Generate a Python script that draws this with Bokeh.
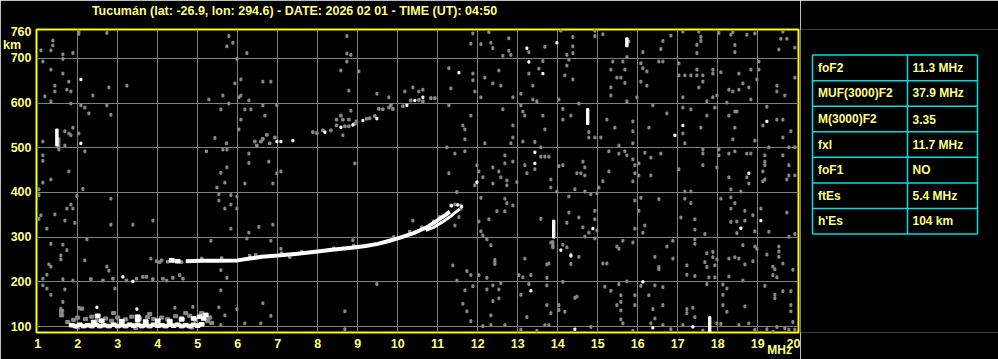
from bokeh.plotting import figure
from bokeh.models import Range1d, FixedTicker, LinearAxis
from bokeh.layouts import row
from bokeh.embed import file_html
from bokeh.resources import INLINE
from bokeh.core.properties import value

TXT = "#ffff80"
FONT = "Liberation Sans"

title_text = "Tucumán (lat: -26.9, lon: 294.6) - DATE: 2026 02 01 - TIME (UT): 04:50"
title_pos = 7.42       # frequency above which the heading is centred
freq_ticks = list(range(1, 21))
km_ticks = [100, 200, 300, 400, 500, 600, 700, 760]
km_grid = [100, 200, 300, 400, 500, 600, 700]
unit_km_pos = 729      # where the "km" unit sits on the height axis
unit_mhz_pos = 19.55   # where the "MHz" unit sits on the frequency axis

# ordinary (O) F-trace
o_freq = [4.7, 5.1, 5.5, 6.0, 6.3, 6.6, 7.0, 7.5, 8.0, 8.3, 8.6, 8.9, 9.2, 9.5, 9.8,
          10.1, 10.4, 10.6, 10.75, 10.9, 11.05, 11.2, 11.3]
o_km = [246, 247, 247, 248, 252, 256, 259, 263, 268, 271, 274, 277, 280, 285, 292,
        300, 309, 317, 323, 332, 341, 350, 357]
# extraordinary (X) trace
x_freq = [10.7, 10.9, 11.1, 11.3, 11.45, 11.55]
x_km = [315, 322, 333, 345, 356, 363]

# sporadic E layer
es_white = [(1.85, 103), (1.95, 101), (2.05, 104), (2.15, 101), (2.25, 103), (2.35, 101), (2.45, 104),
            (2.55, 101), (2.65, 103), (2.78, 101), (2.9, 104), (3.0, 101), (3.1, 103), (3.2, 101),
            (3.3, 104), (3.4, 102), (3.5, 104), (3.6, 101), (3.7, 103), (3.8, 101), (3.9, 104),
            (4.0, 102), (4.1, 103), (4.2, 101), (4.3, 104), (4.4, 102), (4.5, 104), (4.6, 101),
            (4.7, 103), (4.8, 101), (4.9, 104), (5.0, 102), (5.1, 105), (2.4, 110), (2.6, 113),
            (3.1, 112), (3.5, 115), (3.7, 111), (4.0, 113), (4.3, 112), (4.6, 116), (4.9, 118),
            (5.05, 122), (5.15, 118), (5.2, 126), (2.5, 124), (3.5, 122), (4.35, 248), (4.5, 246)]
es_gray = [(1.75, 110), (1.9, 115), (2.0, 120), (2.2, 117), (2.35, 122), (2.5, 115), (2.7, 118),
           (2.85, 113), (3.0, 120), (3.2, 116), (3.35, 122), (3.55, 118), (3.75, 121), (3.9, 117),
           (4.1, 120), (4.25, 116), (4.45, 123), (4.6, 119), (4.8, 124), (4.95, 115), (5.1, 130),
           (5.25, 112), (5.35, 108), (1.6, 125), (1.6, 135), (2.1, 140), (2.9, 130), (3.8, 128),
           (4.7, 130), (5.3, 120), (2.0, 98), (3.45, 97), (4.85, 98)]

# second hop / ghost echoes
hop2 = [(5.72, 510), (6.43, 514), (6.48, 505), (6.58, 514), (6.63, 520), (6.73, 529), (6.80, 510),
        (6.93, 523), (7.88, 535), (7.98, 533), (8.13, 539), (8.33, 539), (8.47, 550), (8.68, 548),
        (8.78, 548), (8.93, 554), (8.47, 563), (8.63, 563), (8.78, 563), (8.58, 572), (8.97, 559),
        (9.22, 565), (9.30, 566), (9.43, 571), (9.53, 587), (9.63, 586), (9.78, 590), (9.83, 595),
        (9.88, 587), (10.13, 593), (10.33, 606), (10.53, 607), (10.63, 604), (10.83, 611), (10.93, 611),
        (2.33, 206), (2.63, 203), (2.88, 207), (3.22, 203), (3.47, 207), (3.63, 211), (3.72, 211),
        (3.88, 206), (4.13, 207), (4.22, 203), (4.38, 209), (4.55, 215), (4.63, 207),
        (3.97, 246), (4.1, 248), (4.25, 245), (4.4, 247), (4.05, 244), (4.6, 244),
        (5.1, 252), (5.6, 253), (6.3, 258), (7.1, 264), (7.6, 267), (8.4, 275), (8.9, 281),
        (9.9, 300), (10.3, 312), (10.6, 322), (10.9, 335), (11.05, 345), (7.3, 256), (6.45, 260)]

# isolated bright pixels
white_dots = [(2.08, 653), (2.08, 510), (3.13, 211), (3.38, 201), (2.48, 143), (3.48, 139),
              (6.98, 514), (7.08, 514), (7.38, 516), (8.18, 535), (8.58, 546), (8.88, 551),
              (9.13, 561), (9.48, 565), (10.23, 595), (10.43, 606), (10.63, 613),
              (11.53, 668), (11.98, 423), (11.35, 370), (11.5, 372), (11.6, 368),
              (13.23, 723), (13.98, 735), (13.28, 692), (13.63, 666), (16.93, 528), (13.43, 490),
              (13.43, 465), (14.08, 271), (14.33, 258), (14.88, 319), (13.33, 180), (16.13, 200),
              (16.38, 97), (14.43, 94), (17.13, 550), (19.23, 559), (18.78, 443), (19.08, 337),
              (18.58, 320), (17.38, 99)]

# vertical echo spikes (bright and faint)
spike_freq = [1.48, 14.75, 13.9, 17.8, 15.73]
spike_bottom = [504, 552, 298, 86, 726]
spike_top = [542, 588, 338, 122, 746]
faint_spike_freq = [12.43, 13.88, 1.53]
faint_spike_bottom = [237, 277, 500]
faint_spike_top = [252, 292, 522]

# gray noise pixels
noise = [
    (2.03, 760), (2.03, 755), (2.73, 757), (1.38, 740), (1.38, 729), (1.08, 718), (1.33, 718),
    (1.63, 709), (1.88, 712), (1.63, 699), (1.13, 693), (1.33, 675), (1.63, 666), (1.78, 648),
    (1.43, 639), (1.73, 630), (1.83, 626), (1.43, 626), (1.18, 615), (1.33, 604), (1.83, 599),
    (2.38, 617), (2.78, 635), (3.23, 639), (2.08, 595), (2.18, 590), (2.73, 595), (2.28, 577),
    (2.83, 574), (1.88, 545), (1.68, 537), (1.78, 532), (1.83, 528), (1.13, 514), (1.68, 505),
    (2.03, 532), (1.53, 496), (2.18, 492), (1.13, 483), (1.13, 471), (1.78, 447), (1.33, 429),
    (1.13, 422), (2.13, 408), (1.03, 407), (1.03, 394), (1.98, 392), (1.83, 373), (1.73, 364),
    (1.88, 364), (1.08, 349), (1.43, 351), (1.03, 341), (1.68, 337), (1.93, 332), (2.83, 386),
    (3.38, 328), (3.88, 337), (2.83, 328), (1.23, 319), (2.23, 295), (1.33, 285), (1.63, 283),
    (1.73, 271), (1.58, 259), (1.58, 250), (2.18, 248), (1.28, 239), (1.33, 234), (2.73, 234),
    (2.78, 225), (3.83, 252), (1.23, 216), (1.13, 207), (1.63, 206), (1.88, 203), (1.13, 192),
    (1.23, 185), (1.68, 183), (1.33, 171), (2.93, 185), (1.63, 155), (1.58, 140), (1.58, 129),
    (2.03, 142), (4.88, 144), (4.43, 142),
    (5.78, 750), (5.88, 735), (5.73, 727), (6.23, 712), (5.98, 699), (8.73, 750), (8.83, 708),
    (8.73, 711), (8.58, 673), (8.73, 693), (6.08, 653), (5.93, 644), (6.63, 648), (6.83, 648),
    (5.63, 617), (6.03, 613), (6.08, 617), (6.28, 606), (5.28, 608), (5.78, 599), (5.58, 586),
    (6.18, 586), (6.33, 586), (6.63, 595), (6.98, 595), (6.68, 572), (6.08, 563), (6.03, 541),
    (5.43, 522), (8.78, 628), (8.83, 583), (8.63, 528), (5.22, 492), (5.63, 496), (5.73, 496),
    (6.28, 487), (6.28, 466), (6.78, 469), (8.93, 465), (5.73, 456), (5.58, 444), (7.08, 447),
    (6.98, 443), (5.68, 422), (5.48, 411), (6.18, 420), (6.88, 420), (5.53, 396), (5.83, 394),
    (5.98, 391), (5.53, 382), (5.83, 373), (5.68, 364), (5.98, 364), (5.83, 319), (6.53, 323),
    (6.28, 310), (6.88, 328), (5.33, 292), (6.23, 297), (6.83, 292), (8.88, 293), (7.08, 274),
    (5.58, 226), (5.73, 209), (5.58, 181), (5.53, 143), (5.98, 139), (6.63, 152), (5.68, 125),
    (6.83, 124), (6.18, 107), (6.58, 107), (5.58, 103), (8.68, 134), (8.68, 94),
    (9.03, 671), (9.48, 621), (9.78, 613), (10.18, 626), (10.38, 635), (10.53, 626), (10.63, 630),
    (11.28, 595), (11.88, 756), (11.83, 733), (12.08, 732), (12.28, 759), (12.33, 735), (12.38, 723),
    (12.63, 706), (12.78, 717), (12.78, 745), (12.83, 708), (11.28, 678), (11.88, 666), (11.88, 651),
    (12.18, 657), (12.38, 644), (12.58, 639), (12.53, 673), (11.93, 626), (12.08, 613), (12.88, 613),
    (12.63, 586), (11.33, 633), (11.83, 572), (11.63, 550), (11.68, 541), (11.68, 519), (12.88, 550),
    (12.88, 523), (12.83, 510), (12.18, 510), (11.23, 501), (11.43, 487), (11.68, 492), (12.68, 483),
    (11.98, 461), (12.68, 465), (12.88, 469), (12.38, 456), (12.03, 447), (11.28, 443), (12.13, 434),
    (12.53, 447), (12.58, 434), (12.73, 427), (12.73, 416), (12.38, 420), (11.93, 416), (11.48, 401),
    (12.08, 388), (12.68, 386), (12.73, 376), (12.88, 371), (12.48, 358), (12.68, 358), (12.28, 340),
    (12.03, 335), (10.38, 337), (12.08, 313), (12.23, 295), (12.33, 282), (12.13, 304), (11.38, 237),
    (11.48, 203), (11.73, 224), (11.83, 215), (12.03, 215), (12.23, 209), (12.38, 192),
    (12.58, 197), (9.48, 195), (11.68, 181), (11.88, 190), (11.63, 151), (11.73, 134), (11.83, 112),
    (12.13, 101), (12.33, 103), (12.38, 157), (12.53, 163), (12.68, 103), (12.33, 125), (12.23, 183),
    (12.53, 183), (11.33, 371), (11.43, 373), (11.58, 371), (11.58, 364), (11.43, 326), (11.53, 345),
    (14.08, 762), (14.38, 748), (14.93, 762), (14.93, 750), (15.13, 754), (15.78, 738), (15.73, 703),
    (16.13, 714), (16.63, 739), (16.83, 751), (16.58, 721), (13.28, 714), (14.38, 727), (14.38, 712),
    (14.23, 708), (13.68, 726), (13.53, 677), (13.63, 694), (13.28, 666), (13.38, 639), (13.08, 621),
    (13.38, 608), (13.48, 604), (14.03, 608), (14.23, 684), (14.18, 662), (14.38, 653), (14.28, 697),
    (15.38, 693), (15.63, 693), (15.68, 675), (15.33, 675), (15.48, 657), (15.58, 657), (15.68, 645),
    (15.33, 635), (15.33, 617), (16.08, 689), (16.13, 678), (16.23, 671), (16.08, 648), (16.23, 639),
    (16.63, 693), (16.53, 693), (15.73, 604), (15.98, 613), (16.38, 595), (13.13, 581), (13.18, 572),
    (13.63, 572), (13.08, 595), (14.13, 587), (14.13, 563), (14.33, 572), (14.53, 599), (15.23, 563),
    (15.43, 545), (15.88, 559), (15.88, 537), (16.28, 545), (16.73, 577), (14.78, 535), (14.78, 523),
    (14.93, 523), (15.08, 523), (15.53, 505), (15.88, 510), (13.68, 541), (13.43, 513), (13.13, 514),
    (13.58, 480), (13.68, 480), (13.78, 480), (13.58, 501), (13.43, 452), (13.18, 461), (13.23, 443),
    (14.03, 459), (14.13, 461), (14.63, 469), (14.68, 456), (14.48, 443), (14.58, 443), (14.68, 438),
    (13.83, 429), (13.83, 411), (13.98, 402), (14.43, 407), (14.68, 402), (14.83, 396), (15.03, 411),
    (15.13, 425), (15.28, 447), (15.28, 492), (15.53, 487), (15.68, 492), (15.73, 483), (15.88, 474),
    (15.93, 461), (15.93, 443), (15.88, 425), (16.03, 465), (16.03, 438), (16.18, 489), (16.33, 438),
    (16.33, 478), (16.58, 487), (12.98, 423), (14.28, 391), (14.98, 398), (16.08, 388), (15.93, 382),
    (16.53, 385), (16.03, 359), (14.93, 359), (14.93, 340), (14.98, 315), (14.28, 355), (14.53, 344),
    (14.23, 332), (13.58, 341), (14.63, 322), (14.78, 310), (14.68, 301), (14.93, 297), (16.18, 326),
    (15.93, 319), (16.13, 310), (13.83, 288), (13.88, 277), (14.33, 261), (14.53, 256), (14.13, 283),
    (14.23, 277), (14.33, 240), (13.78, 241), (13.18, 252), (13.73, 239), (15.23, 241), (15.13, 241),
    (15.48, 279), (15.53, 274), (15.63, 292), (15.88, 288), (16.53, 233), (16.43, 256), (16.73, 279),
    (16.88, 292), (16.88, 252), (13.03, 215), (13.13, 210), (13.33, 215), (13.73, 209), (13.28, 195),
    (13.08, 171), (13.73, 192), (14.13, 200), (14.43, 164), (14.48, 167), (14.03, 148), (14.03, 137),
    (14.18, 133), (13.73, 148), (13.23, 121), (13.83, 130), (15.33, 180), (15.18, 189), (15.53, 195),
    (15.73, 201), (15.58, 170), (15.58, 155), (15.58, 136), (15.48, 148), (15.58, 116), (15.63, 107),
    (15.93, 170), (15.93, 148), (16.08, 191), (16.28, 170), (16.43, 192), (16.53, 228), (16.63, 188),
    (16.63, 148), (16.38, 139), (16.43, 118), (16.33, 107), (14.83, 99), (15.88, 90), (16.83, 94),
    (16.63, 103), (13.68, 103), (13.78, 103), (13.08, 93), (13.48, 90),
    (17.13, 760), (17.53, 760), (17.58, 748), (17.58, 739), (17.48, 730), (17.48, 712), (18.03, 757),
    (18.38, 759), (18.33, 753), (18.43, 730), (18.73, 753), (18.43, 714), (18.93, 756), (19.63, 760),
    (19.58, 744), (19.73, 744), (19.53, 720), (19.93, 724), (17.03, 689), (17.03, 662), (17.18, 662),
    (17.33, 662), (17.48, 662), (17.63, 662), (17.48, 675), (17.63, 648), (17.88, 675), (17.88, 666),
    (18.08, 669), (17.53, 635), (17.13, 613), (17.73, 604), (17.88, 613), (17.98, 617), (18.23, 601),
    (18.38, 626), (18.28, 630), (18.53, 630), (18.63, 644), (18.78, 635), (18.83, 608), (18.53, 666),
    (18.83, 675), (18.98, 653), (19.03, 693), (19.03, 675), (19.48, 639), (19.48, 626), (19.68, 617),
    (19.93, 657), (17.13, 590), (17.33, 586), (17.73, 572), (17.93, 590), (17.13, 532), (17.58, 545),
    (18.43, 581), (18.48, 581), (18.28, 572), (18.43, 545), (18.38, 519), (18.93, 516), (19.23, 592),
    (19.13, 550), (19.48, 563), (19.63, 563), (19.83, 537), (19.63, 523), (17.18, 510), (17.63, 496),
    (17.63, 487), (17.63, 461), (18.03, 496), (18.03, 483), (18.28, 487), (18.43, 492), (18.73, 487),
    (18.83, 487), (19.18, 483), (19.18, 469), (19.18, 461), (19.13, 447), (19.28, 501), (19.78, 501),
    (19.93, 501), (19.63, 483), (19.78, 461), (19.78, 438), (19.93, 438), (19.73, 429), (19.18, 429),
    (19.13, 425), (17.03, 452), (17.98, 456), (18.28, 434), (18.78, 420), (18.73, 434), (17.18, 402),
    (17.33, 402), (17.18, 386), (17.33, 376), (17.08, 344), (17.43, 340), (17.43, 317), (17.68, 307),
    (18.08, 386), (18.33, 407), (18.33, 389), (18.33, 364), (18.43, 376), (18.58, 402), (18.68, 359),
    (18.48, 335), (18.33, 334), (18.68, 337), (18.88, 349), (19.08, 364), (18.93, 313), (18.48, 309),
    (19.28, 312), (19.78, 301), (19.93, 307), (19.73, 355), (17.43, 295), (17.43, 285), (17.68, 244),
    (17.73, 233), (17.78, 210), (17.73, 264), (17.88, 267), (17.88, 255), (17.98, 250), (17.93, 237),
    (17.93, 210), (17.23, 237), (17.23, 216), (17.43, 213), (18.28, 252), (18.43, 255), (18.53, 252),
    (18.63, 282), (18.68, 239), (18.88, 246), (18.93, 279), (18.98, 274), (18.28, 212), (18.63, 203),
    (19.23, 261), (19.53, 279), (19.53, 268), (19.53, 256), (19.38, 234), (19.43, 228), (19.38, 215),
    (19.48, 210), (19.63, 241), (19.88, 227), (17.73, 195), (18.13, 194), (18.13, 171), (18.23, 185),
    (18.13, 148), (18.23, 133), (18.68, 145), (19.18, 191), (19.43, 171), (19.43, 163), (19.63, 179),
    (19.83, 179), (19.83, 148), (19.83, 134), (17.23, 139), (17.38, 142), (17.23, 130), (17.43, 121),
    (17.13, 103), (17.63, 91), (17.98, 107), (18.08, 106), (18.53, 103), (18.78, 107), (18.93, 93),
    (19.23, 94), (19.38, 88), (19.48, 99), (19.68, 96), (19.78, 93), (19.93, 93), (19.88, 110),
]

table_params = ["foF2", "MUF(3000)F2", "M(3000)F2", "fxI", "foF1", "ftEs", "h'Es"]
table_values = ["11.3 MHz", "37.9 MHz", "3.35", "11.7 MHz", "NO", "5.4 MHz", "104 km"]


def unzip(pts):
    return [a for a, _ in pts], [b for _, b in pts]


p = figure(width=800, height=359, x_range=Range1d(0.97, 20.02), y_range=Range1d(86.6, 764.7),
           output_backend="svg", toolbar_location=None,
           min_border_left=36, min_border_right=2, min_border_top=29, min_border_bottom=26,
           background_fill_color="black", border_fill_color="black",
           outline_line_color="#ffff00", outline_line_width=2)

mhz_axis = LinearAxis()
p.add_layout(mhz_axis, "below")
head_axis = LinearAxis()
p.add_layout(head_axis, "above")


def style_axis(ax):
    ax.axis_line_color = None
    ax.major_tick_line_color = None
    ax.minor_tick_line_color = None
    ax.major_tick_out = 0
    ax.major_tick_in = 0
    ax.minor_tick_out = 0
    ax.minor_tick_in = 0
    ax.major_label_text_color = TXT
    ax.major_label_text_font = FONT
    ax.major_label_text_font_style = "bold"
    ax.major_label_text_font_size = "12.5px"


main_x = p.below[0]
main_y = p.left[0]
for ax in (main_x, main_y, mhz_axis, head_axis):
    style_axis(ax)

# heading line above the frame
head_axis.ticker = FixedTicker(ticks=[title_pos])
head_axis.major_label_overrides = {title_pos: title_text}
head_axis.major_label_standoff = 12

main_x.ticker = FixedTicker(ticks=freq_ticks)
main_x.major_label_standoff = 6
mhz_axis.ticker = FixedTicker(ticks=[unit_mhz_pos])
mhz_axis.major_label_overrides = {unit_mhz_pos: "MHz"}
mhz_axis.major_label_text_font_size = "12px"
mhz_axis.major_label_standoff = -8

main_y.ticker = FixedTicker(ticks=km_ticks + [unit_km_pos])
main_y.major_label_overrides = {unit_km_pos: "km\u00a0\u00a0\u00a0"}
main_y.major_label_standoff = 5

p.xgrid.ticker = FixedTicker(ticks=freq_ticks[1:-1])
p.ygrid.ticker = FixedTicker(ticks=km_grid)
p.grid.grid_line_color = "#808080"
p.grid.grid_line_width = 1

GRAY = "#8a8a8a"
nf, nk = unzip(noise)
p.rect(x=nf, y=nk, width=0.05, height=6, color=GRAY)
hf, hk = unzip(hop2)
p.rect(x=hf, y=hk, width=0.06, height=6, color=GRAY)
gf, gk = unzip(es_gray)
p.rect(x=gf, y=gk, width=0.1, height=7, color=GRAY)
p.vbar(x=faint_spike_freq, bottom=faint_spike_bottom, top=faint_spike_top, width=0.05, color=GRAY)

p.line(o_freq, o_km, line_width=4, color="white")
p.line(x_freq, x_km, line_width=3, color="white")
ef, ek = unzip(es_white)
p.rect(x=ef, y=ek, width=0.12, height=8, color="white")
wf, wk = unzip(white_dots)
p.rect(x=wf, y=wk, width=0.05, height=5, color="white")
p.vbar(x=spike_freq, bottom=spike_bottom, top=spike_top, width=0.06, color="white")

# parameter table
t = figure(width=198, height=359, x_range=Range1d(0, 198), y_range=Range1d(359, 0),
           output_backend="svg", toolbar_location=None, min_border=0,
           x_axis_location=None, y_axis_location=None,
           background_fill_color="black", border_fill_color="black", outline_line_color=None)
t.grid.visible = False
n = len(table_params)
row_h = 30.3
top = 30.3
ys = [top + row_h * i for i in range(n + 1)]
CY = "#00dede"
t.segment(x0=[12] * (n + 1), y0=ys, x1=[177] * (n + 1), y1=ys, line_color=CY, line_width=1.5)
t.segment(x0=[12, 107, 177], y0=[top] * 3, x1=[12, 107, 177], y1=[ys[-1]] * 3,
          line_color=CY, line_width=1.5)
centers = [top + row_h * (i + 0.5) for i in range(n)]
t.text(x=[17.5] * n, y=centers, text=table_params, text_baseline="middle", text_color=TXT,
       text_font=value(FONT), text_font_style="bold", text_font_size="12px")
t.text(x=[112] * n, y=centers, text=table_values, text_baseline="middle", text_color=TXT,
       text_font=value(FONT), text_font_style="bold", text_font_size="12px")

layout = row(p, t)
open("out.html", "w").write(file_html(layout, INLINE))
